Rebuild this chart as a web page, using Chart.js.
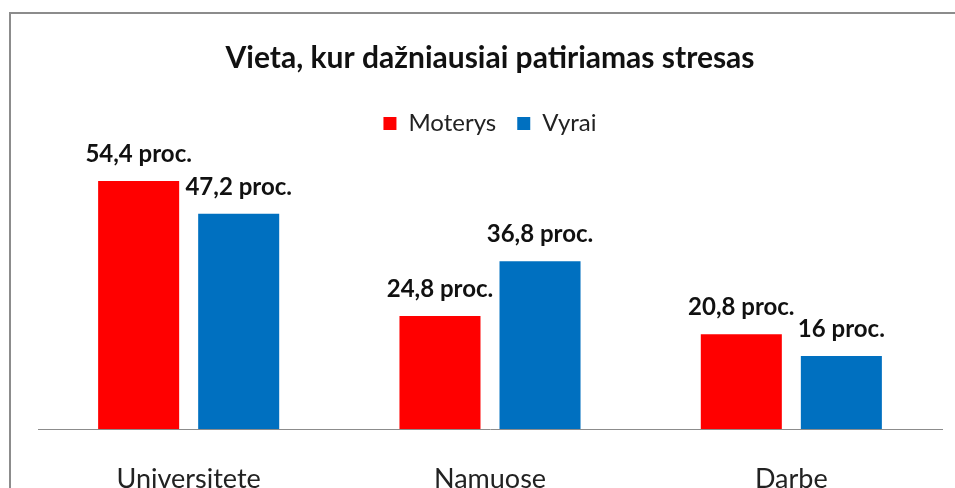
<!DOCTYPE html>
<html><head><meta charset="utf-8">
<script src="https://cdn.jsdelivr.net/npm/chart.js@4.4.0/dist/chart.umd.min.js"></script>
<style>html,body{margin:0;padding:0;background:#fff;overflow:hidden}</style>
</head><body>
<canvas id="c" width="955" height="488"></canvas>
<script>
const categories = ["Universitete", "Namuose", "Darbe"];
const moterys = [54.4, 24.8, 20.8];
const vyrai = [47.2, 36.8, 16];
const seriesNames = ["Moterys", "Vyrai"];
const titleText = "Vieta, kur dažniausiai patiriamas stresas";
const FONT = "Lato";

const fmt = v => String(v).replace('.', ',') + ' proc.';

const framePlugin = {
  id: 'frame',
  beforeDraw(chart) {
    const ctx = chart.ctx;
    ctx.save();
    ctx.fillStyle = '#fff';
    ctx.fillRect(0, 0, chart.width, chart.height);
    ctx.strokeStyle = '#8c8c8c';
    ctx.lineWidth = 2;
    ctx.beginPath();
    ctx.moveTo(10, chart.height + 5);
    ctx.lineTo(10, 13);
    ctx.lineTo(chart.width + 5, 13);
    ctx.stroke();
    ctx.restore();
  }
};

const labelPlugin = {
  id: 'barLabels',
  afterDatasetsDraw(chart) {
    const ctx = chart.ctx;
    ctx.save();
    ctx.font = 'bold 24px ' + FONT;
    ctx.fillStyle = '#111';
    ctx.textAlign = 'center';
    ctx.textBaseline = 'alphabetic';
    chart.data.datasets.forEach((ds, di) => {
      const meta = chart.getDatasetMeta(di);
      meta.data.forEach((bar, i) => {
        ctx.fillText(fmt(ds.data[i]), bar.x, bar.y - 19);
      });
    });
    ctx.restore();
  }
};

new Chart(document.getElementById('c'), {
  type: 'bar',
  data: {
    labels: categories,
    datasets: [
      { label: seriesNames[0], data: moterys, backgroundColor: '#FF0000' },
      { label: seriesNames[1], data: vyrai, backgroundColor: '#0070C0' }
    ]
  },
  options: {
    responsive: false,
    animation: false,
    layout: { padding: { left: 38, right: 13, top: 0, bottom: -41.4 } },
    datasets: { bar: { categoryPercentage: 0.664, barPercentage: 0.81 } },
    plugins: {
      title: {
        display: true, text: titleText, color: '#111',
        font: { family: FONT, size: 30, weight: 'bold', lineHeight: 1.2 },
        padding: { top: 40.5, bottom: 14 }
      },
      legend: {
        display: true,
        labels: {
          color: '#222', boxWidth: 13, boxHeight: 13, padding: 21,
          font: { family: FONT, size: 24 }
        }
      },
      tooltip: { enabled: false }
    },
    scales: {
      x: {
        grid: { display: false, drawTicks: false },
        border: { display: true, color: '#8c8c8c', width: 1 },
        ticks: { color: '#222', padding: 34, font: { family: FONT, size: 27 } }
      },
      y: { display: false, min: 0, max: 62.2 }
    }
  },
  plugins: [framePlugin, labelPlugin]
});
</script>
</body></html>
